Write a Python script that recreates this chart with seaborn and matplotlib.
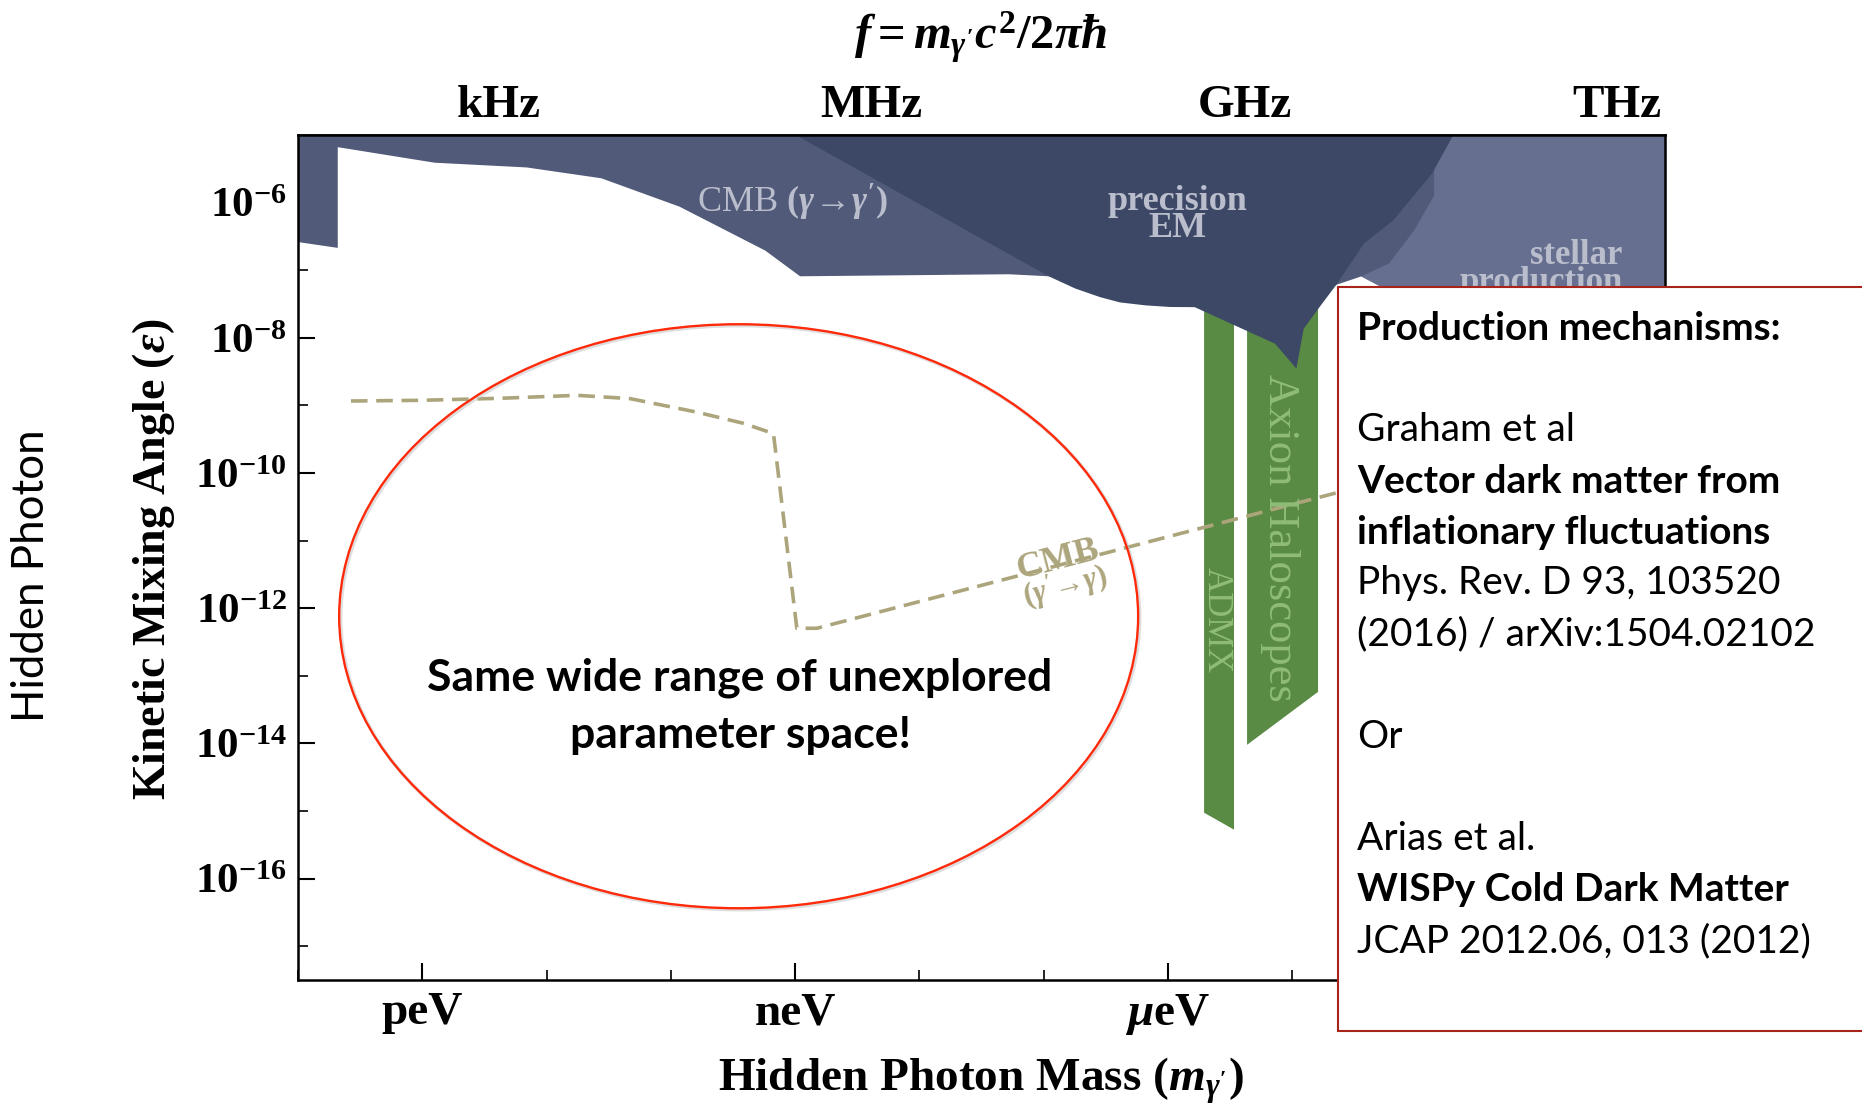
import numpy as np
import matplotlib
matplotlib.use("Agg")
import matplotlib.pyplot as plt
from matplotlib.patches import Ellipse, Rectangle
from matplotlib.ticker import FixedLocator, NullFormatter
import seaborn as sns

# ---------------- data: log10(mass / eV) and log10(epsilon) ----------------
cmb_log_mass = [-13.05, -12.68, -12.68, -11.90, -11.16, -10.56, -9.93, -9.24, -8.96,
                -7.28, -6.96, -6.00, -5.20, -4.636, -4.446, -4.10, -1.70, -1.70, -13.05]
cmb_log_eps = [-6.57, -6.67, -5.18, -5.41, -5.48, -5.64, -6.06, -6.71, -7.09,
               -7.06, -7.09, -7.30, -7.60, -7.211, -7.093, -7.05, -7.05, -4.50, -4.50]

stellar_log_mass = [-3.810, -3.858, -3.858, -4.019, -4.221, -4.446, -4.277, -3.328, -1.70, -1.70]
stellar_log_eps = [-4.501, -5.572, -5.897, -6.414, -6.901, -7.093, -7.256, -8.038, -8.925, -4.501]

precision_log_mass = [-9.482, -8.986, -6.956, -6.747, -6.545, -6.385, -6.176, -5.983, -5.784,
                      -5.138, -4.966, -4.907, -4.776, -4.649, -4.422, -4.188, -3.875, -3.714, -3.569]
precision_log_eps = [-4.501, -5.010, -7.093, -7.270, -7.399, -7.477, -7.521, -7.544, -7.547,
                     -8.087, -8.456, -7.866, -7.536, -7.226, -6.606, -6.266, -5.572, -5.035, -4.501]

admx_log_mass = [-5.709, -5.468, -5.468, -5.709]
admx_log_eps = [-7.0, -7.0, -15.276, -15.025]

haloscope_log_mass = [-5.363, -4.792, -4.792, -5.363]
haloscope_log_eps = [-7.0, -7.0, -13.238, -14.021]

cmb_dark_log_mass = [-12.574, -12.016, -11.372, -10.753, -10.327, -9.79, -9.418, -9.174,
                     -8.986, -8.825, -4.647, -2.0]
cmb_dark_log_eps = [-8.935, -8.925, -8.895, -8.851, -8.90, -9.10, -9.264, -9.417,
                    -12.297, -12.297, -10.295, -9.03]

mass_ticks = [1e-12, 1e-9, 1e-6, 1e-3]
mass_tick_labels = ["peV", "neV", r"$\mu$eV", "meV"]
mass_minor_ticks = [10.0 ** k for k in range(-13, -1)]
freq_ticks = [1e3, 1e6, 1e9, 1e12]
freq_tick_labels = ["kHz", "MHz", "GHz", "THz"]
freq_minor_ticks = [10.0 ** k for k in range(2, 13)]
eps_ticks = [1e-16, 1e-14, 1e-12, 1e-10, 1e-8, 1e-6]
eps_tick_labels = [r"$\mathbf{10^{-16}}$", r"$\mathbf{10^{-14}}$", r"$\mathbf{10^{-12}}$",
                   r"$\mathbf{10^{-10}}$", r"$\mathbf{10^{-8}}$", r"$\mathbf{10^{-6}}$"]
eps_minor_ticks = [1e-17, 1e-15, 1e-13, 1e-11, 1e-9, 1e-7]

box_lines = [
    ("Production mechanisms:", "bold"),
    ("", "normal"),
    ("Graham et al", "normal"),
    ("Vector dark matter from", "bold"),
    ("inflationary fluctuations", "bold"),
    ("Phys. Rev. D 93, 103520", "normal"),
    ("(2016) / arXiv:1504.02102", "normal"),
    ("", "normal"),
    ("Or", "normal"),
    ("", "normal"),
    ("Arias et al.", "normal"),
    ("WISPy Cold Dark Matter", "bold"),
    ("JCAP 2012.06, 013 (2012)", "normal"),
]

EV_TO_HZ = 2.417989e14  # f = m c^2 / (2 pi hbar)

# ---------------- style ----------------
sns.set_theme(style="ticks")
SERIF = ["Liberation Serif", "DejaVu Serif"]
SANS = ["Lato", "DejaVu Sans"]
plt.rcParams.update({
    "font.family": SERIF,
    "mathtext.fontset": "custom",
    "mathtext.rm": "Liberation Serif:bold",
    "mathtext.it": "Liberation Serif:italic:bold",
    "mathtext.bf": "Liberation Serif:bold",
    "mathtext.sf": "Liberation Serif:bold",
    "mathtext.fallback": "stix",
    "axes.linewidth": 1.8,
    "axes.edgecolor": "black",
    "text.color": "black",
    "axes.labelcolor": "black",
    "xtick.color": "black",
    "ytick.color": "black",
})

C_CMB = "#525a7a"
C_PREC = "#3d4866"
C_STELLAR = "#666f90"
C_GREEN = "#5a8b44"
C_REGION_TXT = "#b9bdcc"
C_GREEN_TXT = "#8fbd79"
C_DASH = "#aca57c"

fig = plt.figure(figsize=(18.62, 11.04), dpi=100)
fig.patch.set_facecolor("white")
ax = fig.add_axes([0.16004, 0.11232, 0.73416, 0.76540])
ax.set_facecolor("white")


def pw(vals):
    return 10.0 ** np.asarray(vals)


# exclusion regions
ax.fill(pw(cmb_log_mass), pw(cmb_log_eps), color=C_CMB, lw=0, zorder=1)
ax.fill(pw(stellar_log_mass), pw(stellar_log_eps), color=C_STELLAR, lw=0, zorder=1.1)
ax.fill(pw(admx_log_mass), pw(admx_log_eps), color=C_GREEN, lw=0, zorder=1.2)
ax.fill(pw(haloscope_log_mass), pw(haloscope_log_eps), color=C_GREEN, lw=0, zorder=1.2)
ax.fill(pw(precision_log_mass), pw(precision_log_eps), color=C_PREC, lw=0, zorder=1.3)

# dark-photon CMB bound (dashed)
sns.lineplot(x=pw(cmb_dark_log_mass), y=pw(cmb_dark_log_eps), sort=False, estimator=None,
             color=C_DASH, lw=2.6, ax=ax, zorder=1.5)
ax.lines[-1].set_dashes((4.6, 2.4))

ax.set_xscale("log")
ax.set_yscale("log")
ax.set_xlim(1e-13, 1e-2)
ax.set_ylim(10 ** -17.5, 1e-5)

# region labels
ax.text(10 ** -9.02, 10 ** -6.0, "CMB $(\\gamma\\!\\rightarrow\\!\\gamma')$",
        color=C_REGION_TXT, fontsize=26, ha="center", va="center", zorder=3)
ax.text(10 ** -5.92, 10 ** -6.18, "precision\nEM", color=C_REGION_TXT, fontsize=26,
        fontweight="bold", ha="center", va="center", linespacing=0.75, zorder=3)
ax.text(10 ** -2.34, 10 ** -6.98, "stellar\nproduction", color=C_REGION_TXT, fontsize=25,
        fontweight="bold", ha="right", va="center", multialignment="right",
        linespacing=0.75, zorder=3)
ax.text(10 ** -5.10, 10 ** -10.96, "Axion Haloscopes", color=C_GREEN_TXT, fontsize=32,
        rotation=-90, ha="center", va="center", zorder=3)
ax.text(10 ** -5.61, 10 ** -12.17, "ADMX", color=C_GREEN_TXT, fontsize=25,
        rotation=-90, ha="center", va="center", zorder=3)
ax.text(10 ** -6.883, 10 ** -11.295, "CMB", color=C_DASH, fontsize=26, fontweight="bold",
        rotation=14.6, rotation_mode="anchor", ha="center", va="center", zorder=3)
ax.text(10 ** -6.827, 10 ** -11.681, "$(\\gamma'\\!\\rightarrow\\!\\gamma)$", color=C_DASH,
        fontsize=22, rotation=14.6, rotation_mode="anchor", ha="center", va="center",
        zorder=3)

# axes ticks
ax.set_xticks(mass_ticks, labels=mass_tick_labels)
ax.xaxis.set_minor_locator(FixedLocator(mass_minor_ticks))
ax.xaxis.set_minor_formatter(NullFormatter())
ax.set_yticks(eps_ticks, labels=eps_tick_labels)
ax.yaxis.set_minor_locator(FixedLocator(eps_minor_ticks))
ax.yaxis.set_minor_formatter(NullFormatter())
ax.tick_params(axis="x", which="both", direction="in", top=False, bottom=True,
               labelsize=34, pad=9)
ax.tick_params(axis="y", which="both", direction="in", left=True, right=True,
               labelsize=31, pad=8)
ax.tick_params(which="major", length=12, width=1.5, color="black")
ax.tick_params(which="minor", length=7, width=1.2, color="black")
for lab in ax.get_xticklabels():
    lab.set_fontweight("bold")

sec = ax.secondary_xaxis("top", functions=(lambda m: m * EV_TO_HZ, lambda f: f / EV_TO_HZ))
sec.set_xticks(freq_ticks, labels=freq_tick_labels)
sec.xaxis.set_minor_locator(FixedLocator(freq_minor_ticks))
sec.xaxis.set_minor_formatter(NullFormatter())
sec.tick_params(axis="x", which="both", direction="in", labelsize=34, pad=6)
sec.tick_params(which="major", length=12, width=1.5)
sec.tick_params(which="minor", length=7, width=1.2)
for lab in sec.get_xticklabels():
    lab.set_fontweight("bold")
sec.spines["top"].set_linewidth(1.8)

for s in ax.spines.values():
    s.set_linewidth(1.8)
    s.set_zorder(4)

# axis labels
ax.set_xlabel("Hidden Photon Mass ($m_{\\gamma'}$)", fontsize=34, fontweight="bold")
ax.xaxis.set_label_coords(0.4996, -0.119)
ax.xaxis.label.set_va("center")
ax.set_ylabel("Kinetic Mixing Angle ($\\varepsilon$)", fontsize=33, fontweight="bold")
ax.yaxis.set_label_coords(-0.106, 0.498)
ax.yaxis.label.set_va("center")

fig.text(981 / 1862, 1 - 37 / 1104, "$f = m_{\\gamma'}c^2/2\\pi\\hbar$", fontsize=35,
         ha="center", va="center")
fig.text(32 / 1862, 1 - 576 / 1104, "Hidden Photon", family=SANS, fontsize=31.5,
         rotation=90, ha="center", va="center")

# highlighted unexplored region
fig.patches.append(Ellipse((0.3975, 0.4405), 0.4291, 0.5290, transform=fig.transFigure,
                           fill=False, edgecolor="#c8c8c8", lw=2.5, alpha=0.6, zorder=5))
fig.patches.append(Ellipse((0.3967, 0.4418), 0.4291, 0.5290, transform=fig.transFigure,
                           fill=False, edgecolor="#ff2a0a", lw=1.7, zorder=5.1))
fig.text(740 / 1862, 1 - 678 / 1104, "Same wide range of unexplored", family=SANS,
         fontsize=32, fontweight="bold", ha="center", va="center", zorder=6)
fig.text(740 / 1862, 1 - 735 / 1104, "parameter space!", family=SANS,
         fontsize=32, fontweight="bold", ha="center", va="center", zorder=6)

# reference box
fig.patches.append(Rectangle((1338 / 1862, 1 - 1031 / 1104), 0.30, 744 / 1104,
                             transform=fig.transFigure, facecolor="white",
                             edgecolor="#a8241a", lw=1.5, zorder=7))
for i, (line, weight) in enumerate(box_lines):
    if not line:
        continue
    fig.text(1357 / 1862, 1 - (328 + 51.08 * i) / 1104, line, family=SANS, fontsize=28,
             fontweight=weight, ha="left", va="center", zorder=8)

fig.savefig("out.png", dpi=100, facecolor="white")
